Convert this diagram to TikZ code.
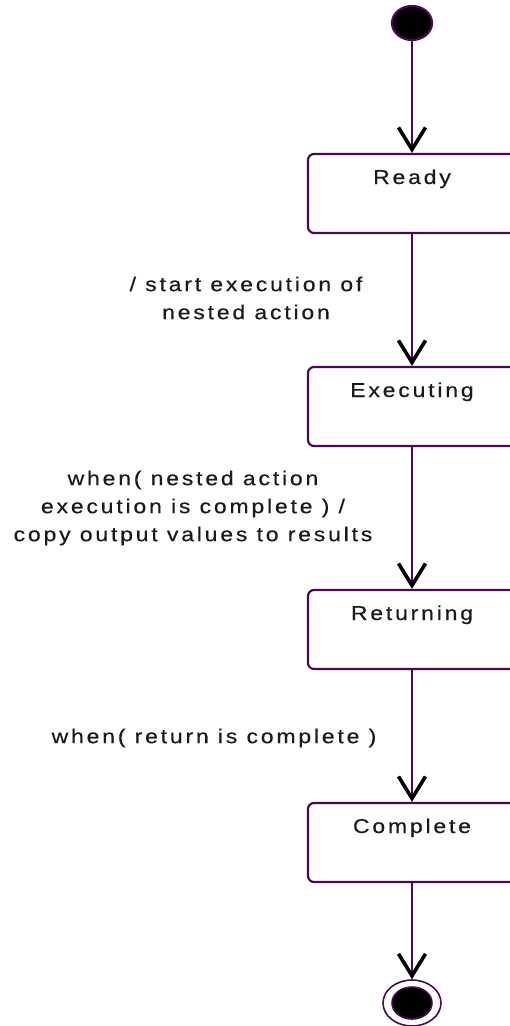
\documentclass[tikz,border=0pt]{standalone}
\usepackage{fontspec}
\setmainfont{Liberation Sans}[FakeStretch=1.15, LetterSpace=14, FakeBold=0.4]
\usetikzlibrary{arrows.meta,shapes.geometric}
\definecolor{umlpurple}{HTML}{4A0A52}
\definecolor{labtext}{HTML}{1A1A1A}
\begin{document}
\begin{tikzpicture}[x=1pt,y=-1pt,
  state/.style={draw=umlpurple, line width=2.2pt, rounded corners=6pt, rectangle, inner sep=0pt,
    minimum width=208pt, text height=30pt, text depth=49pt, anchor=base, text=labtext,
    font=\fontsize{20}{24}\selectfont},
  flow/.style={draw=umlpurple, line width=2.8pt,
    -{Straight Barb[black, length=22pt, width=27pt, line width=3.6pt]}},
  lab/.style={align=center, text=labtext, font=\fontsize{20}{28}\selectfont, inner sep=0pt}]
\useasboundingbox (0,0) rectangle (510,1026);
\clip (0,0) rectangle (510,1026);
\node (init) [ellipse, draw=umlpurple, fill=black, line width=2.2pt, minimum width=40pt,
  minimum height=34pt, inner sep=0pt] at (412,23) {};
\node (ready) [state] at (412,184) {Ready};
\node (exec) [state] at (412,397) {Executing};
\node (ret) [state] at (412,620) {Returning};
\node (compl) [state] at (412,833) {Complete};
\node (final) [ellipse, draw=umlpurple, line width=1.6pt, minimum width=58pt,
  minimum height=46pt, inner sep=0pt] at (412,1003) {};
\draw[umlpurple, fill=black, line width=1.6pt] (final.center) ellipse [x radius=20pt, y radius=16pt];
\node[lab] (l1) at (246,298) {/ start execution of\\nested action};
\node[lab] (l2) at (193,508) {when( nested action\\execution is complete ) /\\copy output values to results};
\node[lab] (l3) at (214,738) {when( return is complete )};
\draw[flow] (init) -- (ready);
\draw[flow] (ready) -- (exec);
\draw[flow] (exec) -- (ret);
\draw[flow] (ret) -- (compl);
\draw[flow] (compl) -- (final);
\end{tikzpicture}
\end{document}
